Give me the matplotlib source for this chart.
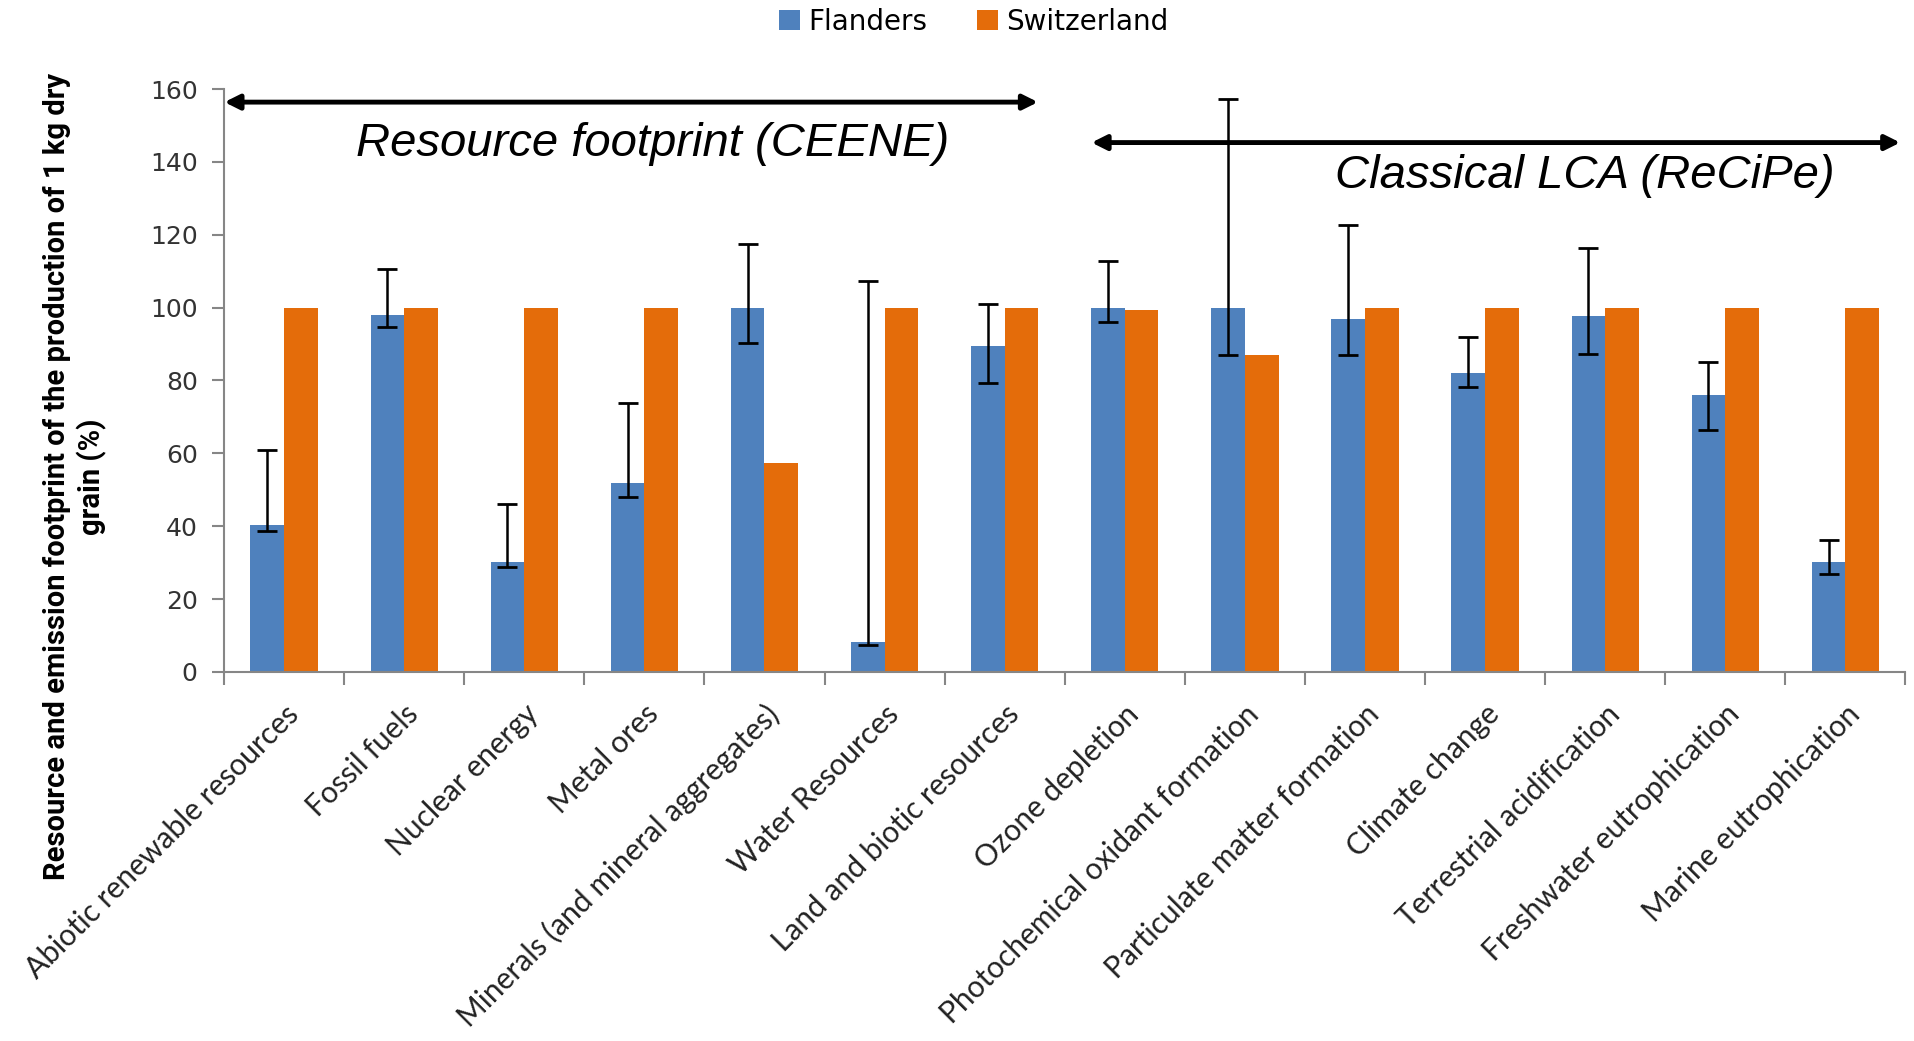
import numpy as np
import matplotlib.pyplot as plt

categories = ['Abiotic renewable resources', 'Fossil fuels', 'Nuclear energy', 'Metal ores',
              'Minerals (and mineral aggregates)', 'Water Resources', 'Land and biotic resources',
              'Ozone depletion', 'Photochemical oxidant formation', 'Particulate matter formation',
              'Climate change', 'Terrestrial acidification', 'Freshwater eutrophication',
              'Marine eutrophication']
flanders = [40.2, 98.1, 30.3, 51.9, 100, 8.1, 89.5, 100, 100, 97.0, 82.1, 97.6, 76.0, 30.2]
switzerland = [100, 100, 100, 100, 57.4, 100, 100, 99.4, 87.1, 100, 100, 100, 100, 100]
err_low = [38.7, 94.7, 28.9, 48.0, 90.4, 7.3, 79.4, 96.0, 86.9, 86.9, 78.2, 87.4, 66.5, 27.0]
err_high = [60.9, 110.7, 46.1, 73.9, 117.5, 107.2, 101.1, 112.8, 157.2, 122.6, 91.9, 116.4, 85.1, 36.2]
yticks = [0, 20, 40, 60, 80, 100, 120, 140, 160]

blue = '#4F81BD'
orange = '#E46C0A'
grey = '#868686'

fig = plt.figure(figsize=(19.15, 10.41), dpi=100)
ax = fig.add_axes([0.117, 0.3545, 0.878, 0.56])

x = np.arange(len(categories))
w = 0.28
fl = np.array(flanders)
yerr = np.array([fl - np.array(err_low), np.array(err_high) - fl])
ax.bar(x - w/2, flanders, w, color=blue, label='Flanders', zorder=2)
ax.bar(x + w/2, switzerland, w, color=orange, label='Switzerland', zorder=2)
ax.errorbar(x - w/2, flanders, yerr=yerr, fmt='none', ecolor='black', elinewidth=1.8,
            capsize=7, capthick=2, zorder=3)

ax.set_xlim(-0.5, len(categories) - 0.5)
ax.set_ylim(0, 160)
ax.set_yticks(yticks)
ax.set_yticklabels([str(v) for v in yticks], fontsize=18, color='#333333')
ax.set_xticks(x)
ax.set_xticklabels(categories, rotation=45, ha='right', rotation_mode='anchor',
                   fontsize=21.5, color='#222222', family='Lato')
ax.set_xticks(np.arange(-0.5, len(categories)), minor=True)
ax.tick_params(axis='x', which='major', length=0, pad=20)
ax.tick_params(axis='x', which='minor', length=9, color=grey, width=1.5)
ax.tick_params(axis='y', length=9, color=grey, width=1.5, pad=10)
for s in ['top', 'right']:
    ax.spines[s].set_visible(False)
for s in ['left', 'bottom']:
    ax.spines[s].set_color(grey)
    ax.spines[s].set_linewidth(1.5)

ax.set_ylabel('Resource and emission footprint of the production of 1 kg dry\ngrain (%)',
              fontsize=21, fontweight='bold', family='Roboto', linespacing=1.25)
ax.yaxis.set_label_coords(-0.0696, 0.335)

# section arrows
ax.annotate('', xy=(-0.52, 156.4), xytext=(6.3, 156.4),
            arrowprops=dict(arrowstyle='<|-|>', color='black', lw=3.5, mutation_scale=22),
            annotation_clip=False)
ax.annotate('', xy=(6.7, 145.3), xytext=(13.48, 145.3),
            arrowprops=dict(arrowstyle='<|-|>', color='black', lw=3.5, mutation_scale=22),
            annotation_clip=False)
ax.text(3.07, 145, 'Resource footprint (CEENE)', fontsize=34, style='italic',
        family='Liberation Sans', ha='center', va='center')
ax.text(10.83, 136, 'Classical LCA (ReCiPe)', fontsize=34, style='italic',
        family='Liberation Sans', ha='center', va='center')

fig.legend(loc='center', bbox_to_anchor=(0.5085, 0.979), ncol=2, frameon=False,
           fontsize=20, handlelength=0.75, handleheight=0.75, handletextpad=0.3,
           columnspacing=1.8)

fig.savefig('out.png', dpi=100)
